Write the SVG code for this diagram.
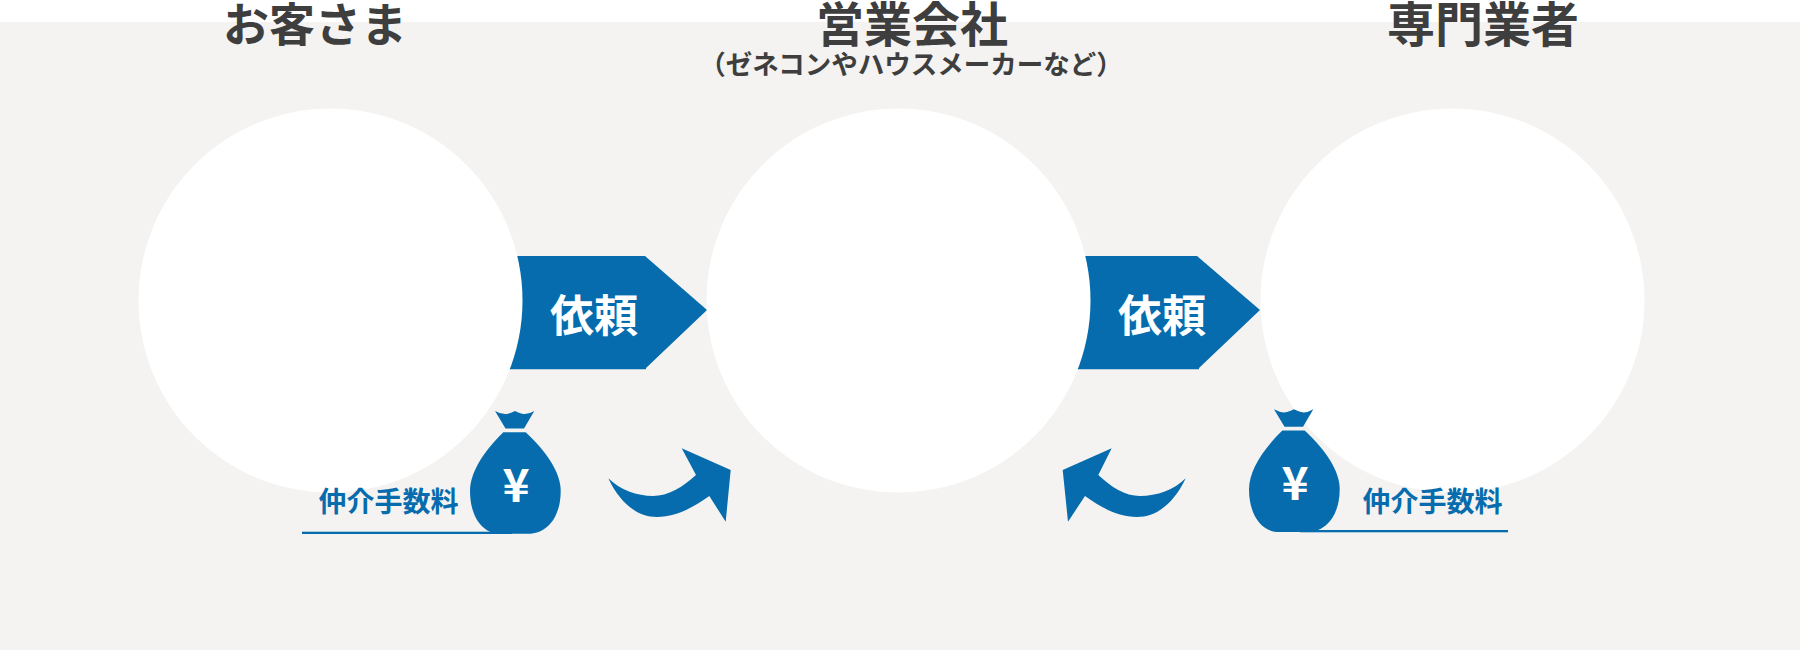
<svg xmlns="http://www.w3.org/2000/svg" width="1800" height="650" viewBox="0 0 1800 650">
<style>
.t{font-family:"Noto Sans CJK JP","Noto Sans",sans-serif;font-weight:700;text-anchor:middle}
.h{font-size:48px;fill:#3e3e3e}
.k{font-size:46px;fill:#3e3e3e}
.s{font-size:26.500px;fill:#3e3e3e}
.r{font-size:44px;fill:#fff}
.f{font-size:28px;fill:#066cae}
.y{font-size:46px;fill:#fff}
.b{fill:#066cae}
.c{fill:#fff}
</style>
<defs>
<g id="bag">
<path class="b" d="M495 411Q502 415 508 413.800Q512 412.800 515 411Q518 412.800 522 413.800Q528 415 534.300 411L524 428.500H505.500Z"/>
<path class="b" d="M503.300 432.300H525.700C547 452 560.700 473 560.700 491C560.700 516 548 533.800 528 533.800H500C482 533.800 470 516 470 491C470 473 483 452 503.300 432.300Z"/>
<text class="t y" x="516" y="502">¥</text>
</g>
</defs>
<rect id="background" x="0" y="22" width="1800" height="628" fill="#f4f3f1"/>
<g id="connectors">
<path class="b" d="M500 256H645L707 310L646 368V369.300H500Z"/>
<path class="b" d="M1060 256H1197L1260 310L1199 368V369.300H1060Z"/>
<path class="b" d="M608.300 478.300C620 490 637 496 653 496C668 496 683 487 696 475L681.700 448.300L730.700 470L725.700 521.700L709.300 496C692 508 676 517 657 517C637 517 620 503 608.300 478.300Z"/>
<path class="b" d="M1185.700 478.300C1174 490 1157 496 1140 496C1125 496 1111 487 1098.300 475L1111.700 448.300L1062.700 470L1068 521.700L1085 496C1102 508 1118 517 1137 517C1157 517 1174 503 1185.700 478.300Z"/>
</g>
<g id="node-customer">
<circle class="c" cx="330.500" cy="300.500" r="192"/>
<text class="t k" x="315" y="41">お客さま</text>
</g>
<g id="node-sales">
<circle class="c" cx="898.500" cy="300.500" r="192"/>
<text class="t h" x="912" y="42">営業会社</text>
<text class="t s" x="911" y="74">（ゼネコンやハウスメーカーなど）</text>
</g>
<g id="node-specialist">
<circle class="c" cx="1452.500" cy="300.500" r="192"/>
<text class="t h" x="1483" y="42">専門業者</text>
</g>
<g id="request-labels">
<text class="t r" x="594" y="332">依頼</text>
<text class="t r" x="1162" y="332">依頼</text>
</g>
<g id="fee-left">
<use href="#bag"/>
<rect class="b" x="302" y="531.700" width="210" height="2.300"/>
<text class="t f" x="388.500" y="512">仲介手数料</text>
</g>
<g id="fee-right">
<use href="#bag" x="779" y="-1.700"/>
<rect class="b" x="1300" y="530" width="208" height="2.300"/>
<text class="t f" x="1432.500" y="512">仲介手数料</text>
</g>
</svg>
